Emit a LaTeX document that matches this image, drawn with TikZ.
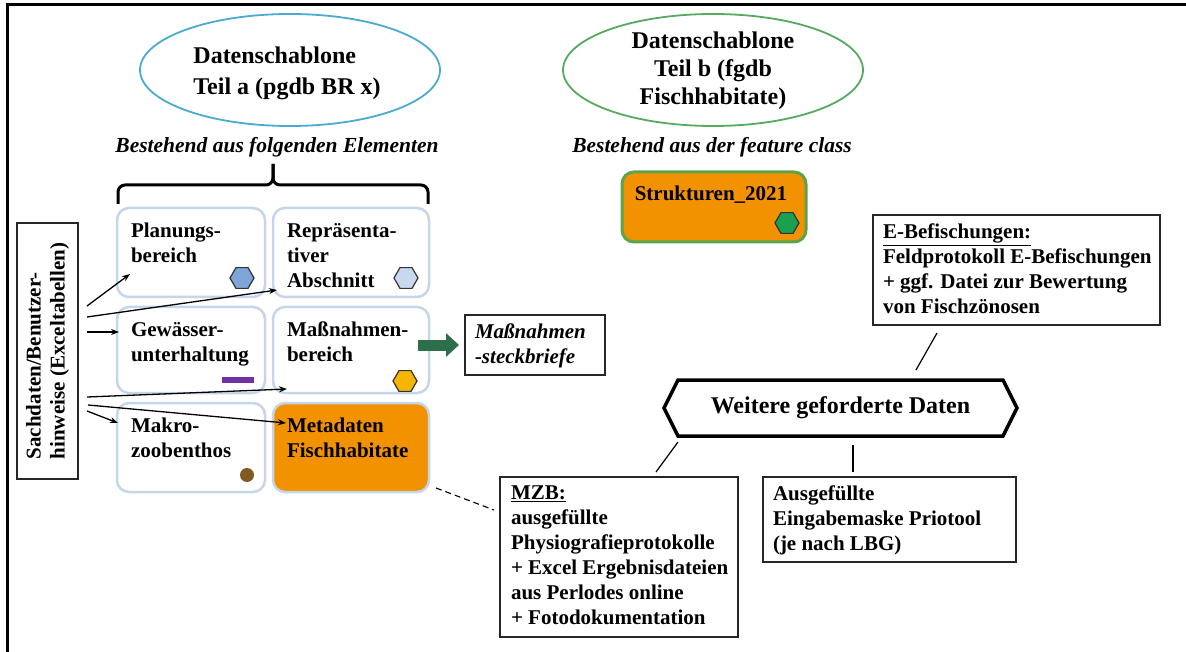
\documentclass[tikz,border=0pt]{standalone}
\usepackage{fontspec}
\setmainfont{Liberation Serif}
\usetikzlibrary{shapes.geometric,arrows.meta,calc}
\definecolor{blueell}{RGB}{75,170,210}
\definecolor{greenell}{RGB}{85,170,95}
\definecolor{boxline}{RGB}{198,214,234}
\definecolor{orangefill}{RGB}{242,146,0}
\definecolor{strgreen}{RGB}{90,165,75}
\definecolor{hexblue}{RGB}{125,165,215}
\definecolor{hexlight}{RGB}{200,216,238}
\definecolor{hexyellow}{RGB}{246,182,0}
\definecolor{hexgreen}{RGB}{25,160,80}
\definecolor{mzbbrown}{RGB}{130,90,35}
\definecolor{barpurple}{RGB}{112,48,160}
\definecolor{arrowgreen}{RGB}{45,110,75}
\begin{document}
\begin{tikzpicture}[x=1pt,y=-1pt,
  every node/.style={inner sep=0pt, outer sep=0pt},
  lbl/.style={font=\fontsize{21}{25}\selectfont\bfseries, align=left, anchor=north west},
  gridbox/.style={draw=boxline, line width=2.5pt, rounded corners=12pt, minimum height=89pt},
  tbox/.style={draw=black!85, line width=1.4pt},
  hexicon/.style={regular polygon, regular polygon sides=6, minimum size=24pt, draw=black!80, line width=1.2pt},
  conn/.style={line width=1.3pt, -{Stealth[length=8pt,width=6pt]}},
  plain/.style={line width=1.2pt}
]
\useasboundingbox (0,0) rectangle (1186,652);
\draw[line width=3pt] (7,652) -- (7,5) -- (1186,5);

% ellipses
\node[ellipse, draw=blueell, line width=1.8pt, minimum width=300pt, minimum height=112pt] (ea) at (290,70) {};
\node[font=\fontsize{24}{31}\selectfont\bfseries, align=left] (eat) at (287,73) {Datenschablone\\Teil a (pgdb BR x)};
\node[ellipse, draw=greenell, line width=1.8pt, minimum width=300pt, minimum height=112pt] (eb2) at (713,70) {};
\node[font=\fontsize{24}{28}\selectfont\bfseries, align=center] (ebt2) at (713,71) {Datenschablone\\Teil b (fgdb\\Fischhabitate)};

% subtitles
\node[font=\fontsize{21.5}{25}\selectfont\bfseries\itshape] (sa) at (277,147) {Bestehend aus folgenden Elementen};
\node[font=\fontsize{21.5}{25}\selectfont\bfseries\itshape] (sb) at (712,147) {Bestehend aus der feature class};

% brace
\draw[line width=3pt, rounded corners=7pt] (118,204) -- (118,185) -- (273,185) -- (273,164);
\draw[line width=3pt, rounded corners=7pt] (428,204) -- (428,185) -- (273,185) -- (273,164);

% grid boxes
\node[gridbox, minimum width=148pt] (pl) at (191,252.5) {};
\node[gridbox, minimum width=156pt] (rp) at (351,252.5) {};
\node[gridbox, minimum width=148pt, minimum height=86pt] (gw) at (191,350) {};
\node[gridbox, minimum width=156pt, minimum height=86pt] (mb) at (351,350) {};
\node[gridbox, minimum width=148pt] (mk) at (191,447.5) {};
\node[gridbox, minimum width=156pt, fill=orangefill] (md) at (351,447.5) {};

\node[lbl] (plt) at ($(pl.north west)+(14,15)$) {Planungs-\\bereich};
\node[lbl] (rpt) at ($(rp.north west)+(14,15)$) {Repräsenta-\\tiver\\Abschnitt};
\node[lbl] (gwt) at ($(gw.north west)+(14,15)$) {Gewässer-\\unterhaltung};
\node[lbl] (mbt) at ($(mb.north west)+(14,15)$) {Maßnahmen-\\bereich};
\node[lbl] (mkt) at ($(mk.north west)+(14,15)$) {Makro-\\zoobenthos};
\node[lbl] (mdt) at ($(md.north west)+(14,15)$) {Metadaten\\Fischhabitate};

% icons
\node[hexicon, fill=hexblue] (plh) at (242,278) {};
\node[hexicon, fill=hexlight] (rph) at (406,278) {};
\node[hexicon, fill=hexyellow] (mbh) at (405,381) {};
\node[fill=barpurple, minimum width=32pt, minimum height=6pt] (gwb) at (238,379.5) {};
\node[circle, fill=mzbbrown, minimum size=14pt] (mkc) at (247,475) {};

% Sachdaten box
\node[tbox, rotate=90, minimum width=256pt, minimum height=61pt, font=\fontsize{21}{24}\selectfont\bfseries, align=left] (sd) at (47.5,351) {Sachdaten/Benutzer-\\hinweise (Exceltabellen)};
\coordinate (s1) at (87,306);
\coordinate (s2) at (87,317);
\coordinate (s3) at (87,332);
\coordinate (s4) at (87,397);
\coordinate (s5) at (88,405);
\coordinate (s6) at (87,411);
\draw[conn] (s1) -- ($(pl.south west)+(13,-23)$);
\draw[conn] (s2) -- ($(rp.south west)+(4,-7)$);
\draw[conn] (s3) -- ($(gw.west)+(2,-18)$);
\draw[conn] (s4) -- ($(mb.south west)+(14,-4)$);
\draw[conn] (s5) -- ($(md.north west)+(13,20)$);
\draw[conn] (s6) -- ($(mk.north west)+(1,20)$);

% Massnahmen-steckbriefe
\node[tbox, minimum width=140pt, minimum height=60pt] (ms) at (535,345) {};
\node[lbl, font=\fontsize{21}{25}\selectfont\bfseries\itshape] (mst) at ($(ms.north west)+(10,9)$) {Maßnahmen\\-steckbriefe};
\draw[line width=11pt, arrowgreen, -{Triangle[length=13pt,width=23pt]}] ($(mb.east)+(-11,-5)$) -- ($(ms.west)+(-6,0)$);

% Strukturen
\node[draw=strgreen, line width=3pt, fill=orangefill, rounded corners=12pt, minimum width=184pt, minimum height=70pt] (st) at (714,207) {};
\node[font=\fontsize{21}{25}\selectfont\bfseries] (stt) at (711,195) {Strukturen\_2021};
\node[hexicon, fill=hexgreen] (sth) at (787,223) {};

% Weitere geforderte Daten
\node[font=\fontsize{24}{28}\selectfont\bfseries, minimum width=325pt, minimum height=56pt] (wd) at (840.5,408) {Weitere geforderte Daten};
\draw[line width=3.5pt, line join=miter] (wd.north west) -- (wd.north east) -- ($(wd.east)+(14,0)$) -- (wd.south east) -- (wd.south west) -- ($(wd.west)+(-14,0)$) -- cycle;

% text boxes
\node[tbox, minimum width=287pt, minimum height=110pt] (eb) at (1016.5,270) {};
\node[lbl] (ebt) at ($(eb.north west)+(10,9)$) {\underline{E-Befischungen:}\\Feldprotokoll E-Befischungen\\+ ggf. Datei zur Bewertung\\von Fischzönosen};
\node[tbox, minimum width=238pt, minimum height=160pt] (mzb) at (619,557) {};
\node[lbl] (mzbt) at ($(mzb.north west)+(11,9)$) {\underline{MZB:}\\ausgefüllte\\Physiografieprotokolle\\+ Excel Ergebnisdateien\\aus Perlodes online\\+ Fotodokumentation};
\node[tbox, minimum width=253pt, minimum height=85pt] (au) at (889.5,519.5) {};
\node[lbl] (aut) at ($(au.north west)+(10,9)$) {Ausgefüllte\\Eingabemaske Priotool\\(je nach LBG)};

% connectors
\draw[plain] ($(eb.south west)+(64,8)$) -- ($(wd.north)+(75.5,-10)$);
\draw[plain] ($(wd.south west)+(0,6)$) -- ($(mzb.north)+(37,-5)$);
\draw[plain] ($(wd.south)+(12.5,9)$) -- ($(au.north west)+(90,-5)$);
\draw[line width=1.1pt, dash pattern=on 6pt off 4pt] ($(md.south east)+(7,-4)$) -- ($(mzb.north west)+(-6,33)$);
\end{tikzpicture}
\end{document}
